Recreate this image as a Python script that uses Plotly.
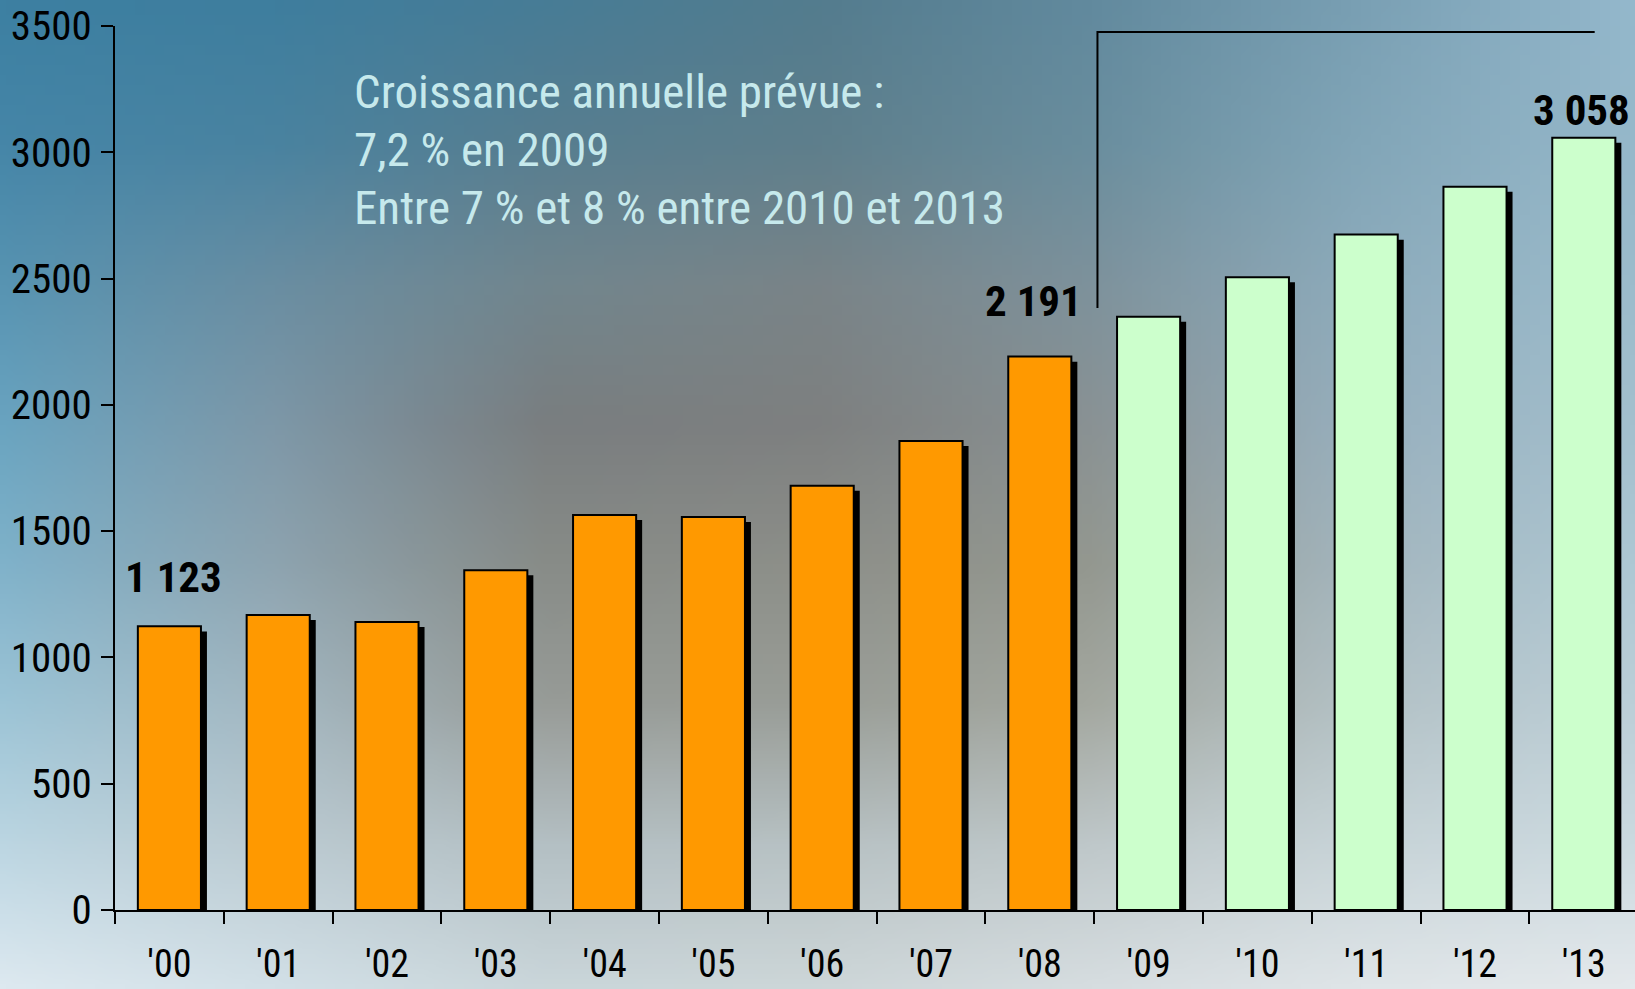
import base64, struct, zlib
import numpy as np
import plotly.graph_objects as go

# ---------------- data ----------------
years = ["'00", "'01", "'02", "'03", "'04", "'05", "'06", "'07",
         "'08", "'09", "'10", "'11", "'12", "'13"]
values = [1123, 1168, 1140, 1345, 1564, 1556, 1680, 1857,
          2191, 2349, 2505, 2674, 2864, 3058]
is_forecast = [False] * 9 + [True] * 5
y_ticks = [0, 500, 1000, 1500, 2000, 2500, 3000, 3500]
note_lines = ["Croissance annuelle prévue :",
              "7,2 % en 2009",
              "Entre 7 % et 8 % entre 2010 et 2013"]
labelled = {"'00": "1 123", "'08": "2 191", "'13": "3 058"}

# ---------------- style ----------------
W, H = 1635, 989
FONT = "Liberation Sans Narrow, Roboto Condensed, DejaVu Sans Condensed, Arial Narrow, sans-serif"
ORANGE = "#FF9900"
GREEN = "#CCFFCC"

# background gradient control colours (rows top->bottom, cols left->right)
bg_rows = [
    ["#3d80a2", "#3f7e9e", "#487c96", "#547c8e", "#628a9e", "#7aa0b4", "#94b8cc"],
    ["#4686a8", "#4a83a0", "#587e90", "#5f7f8c", "#6a8e9e", "#82a6b8", "#96b8ca"],
    ["#5894b2", "#6a8ea2", "#72868e", "#7a8488", "#7e929c", "#8eacbc", "#9cbccc"],
    ["#6aa4c0", "#7e98a8", "#7a7e80", "#7e8080", "#8a9294", "#98b0be", "#a4c0ce"],
    ["#80b2ca", "#8ea4b0", "#888c88", "#8e908a", "#949890", "#a4b6be", "#aec8d4"],
    ["#9cc4d6", "#a4b8c2", "#989c98", "#9a9e98", "#a4a8a0", "#b4c2c6", "#bccfd8"],
    ["#bcd6e2", "#bccbd2", "#b4c0c4", "#b8c2c4", "#bfc8ca", "#c8d4d8", "#ccdae0"],
    ["#dde9f0", "#d2e0e7", "#cad6da", "#cdd6d8", "#d6dde0", "#dfe5e8", "#e4e9ec"],
]


def hex2rgb(h):
    h = h.lstrip("#")
    return [int(h[i:i + 2], 16) for i in (0, 2, 4)]


def make_bg_png(rows, out_w=164, out_h=99):
    grid = np.array([[hex2rgb(c) for c in r] for r in rows], dtype=float)
    gh, gw, _ = grid.shape
    ys = np.linspace(0, gh - 1, out_h)
    xs = np.linspace(0, gw - 1, out_w)
    y0 = np.clip(np.floor(ys).astype(int), 0, gh - 2)
    x0 = np.clip(np.floor(xs).astype(int), 0, gw - 2)
    fy = (ys - y0)[:, None, None]
    fx = (xs - x0)[None, :, None]
    a = grid[y0][:, x0]
    b = grid[y0][:, x0 + 1]
    c = grid[y0 + 1][:, x0]
    d = grid[y0 + 1][:, x0 + 1]
    img = (a * (1 - fx) * (1 - fy) + b * fx * (1 - fy) + c * (1 - fx) * fy + d * fx * fy)
    img = np.clip(img, 0, 255).astype(np.uint8)
    raw = b"".join(b"\x00" + img[i].tobytes() for i in range(out_h))

    def chunk(tag, data):
        return (struct.pack(">I", len(data)) + tag + data +
                struct.pack(">I", zlib.crc32(tag + data) & 0xffffffff))

    png = (b"\x89PNG\r\n\x1a\n" +
           chunk(b"IHDR", struct.pack(">IIBBBBB", out_w, out_h, 8, 2, 0, 0, 0)) +
           chunk(b"IDAT", zlib.compress(raw, 9)) +
           chunk(b"IEND", b""))
    return "data:image/png;base64," + base64.b64encode(png).decode()


colors = [GREEN if f else ORANGE for f in is_forecast]

# plot area geometry (pixels)
left_px, top_px, bottom_px = 115, 26, 910
cat_px = 108.8
x_end = -0.5 + (W - left_px) / cat_px

fig = go.Figure()

# shadow bars
fig.add_trace(go.Bar(
    x=years, y=values, base=-20, width=0.58, offset=-0.235,
    marker=dict(color="black", line=dict(width=0)),
    hoverinfo="skip", showlegend=False,
))
# main bars
fig.add_trace(go.Bar(
    x=years, y=values, width=0.58, offset=-0.29,
    marker=dict(color=colors, line=dict(color="black", width=2)),
    showlegend=False,
))

annotations = []
shifts = {"'00": (4, 49), "'08": (-6, 56), "'13": (-2, 28)}
for yr, v in zip(years, values):
    if yr in labelled:
        dx, dy = shifts[yr]
        annotations.append(dict(
            x=yr, y=v, xref="x", yref="y", text="<b>" + labelled[yr] + "</b>",
            showarrow=False,
            xanchor="center", yanchor="middle", xshift=dx, yshift=dy,
            font=dict(family=FONT, size=43, color="black"),
        ))

note_y_px = [92, 149, 207]
for line, ypx in zip(note_lines, note_y_px):
    annotations.append(dict(
        x=352 / W, y=1 - ypx / H, xref="paper", yref="paper", text=line,
        showarrow=False, xanchor="left", yanchor="middle",
        font=dict(family=FONT, size=47, color="#c6e9ec"),
    ))

fig.update_layout(
    width=W, height=H,
    margin=dict(l=0, r=0, t=0, b=0, pad=0),
    paper_bgcolor="#8aa0ac", plot_bgcolor="rgba(0,0,0,0)",
    barmode="overlay", bargap=0.42,
    showlegend=False,
    font=dict(family=FONT, size=40, color="black"),
    images=[dict(source=make_bg_png(bg_rows), xref="paper", yref="paper",
                 x=0, y=1, sizex=1, sizey=1, sizing="stretch",
                 xanchor="left", yanchor="top", layer="below")],
    xaxis=dict(
        type="category", categoryorder="array", categoryarray=years,
        domain=[left_px / W, 1], range=[-0.5, x_end],
        tickson="boundaries", ticks="outside", ticklen=12, tickwidth=2,
        tickcolor="black", showline=True, linewidth=2, linecolor="black",
        showgrid=False, zeroline=False, automargin=False,
        tickfont=dict(family=FONT, size=38, color="black"),
        ticklabelstandoff=19,
    ),
    yaxis=dict(
        domain=[1 - bottom_px / H, 1 - top_px / H], range=[0, 3500],
        tickvals=y_ticks, ticktext=[str(t) for t in y_ticks],
        ticks="outside", ticklen=12, tickwidth=2, tickcolor="black",
        showline=True, linewidth=2, linecolor="black",
        showgrid=False, zeroline=False, automargin=False,
        tickfont=dict(family=FONT, size=41, color="black"),
        ticklabelstandoff=1,
    ),
    annotations=annotations,
    shapes=[dict(type="path", xref="x", yref="y",
                 path="M 8.53,2383 L 8.53,3476 L 13.1,3476",
                 line=dict(color="black", width=2))],
)

fig.write_html(
    "out.html",
    config={"displayModeBar": False},
    post_script="document.body.style.margin='0';document.body.style.overflow='hidden';",
)
